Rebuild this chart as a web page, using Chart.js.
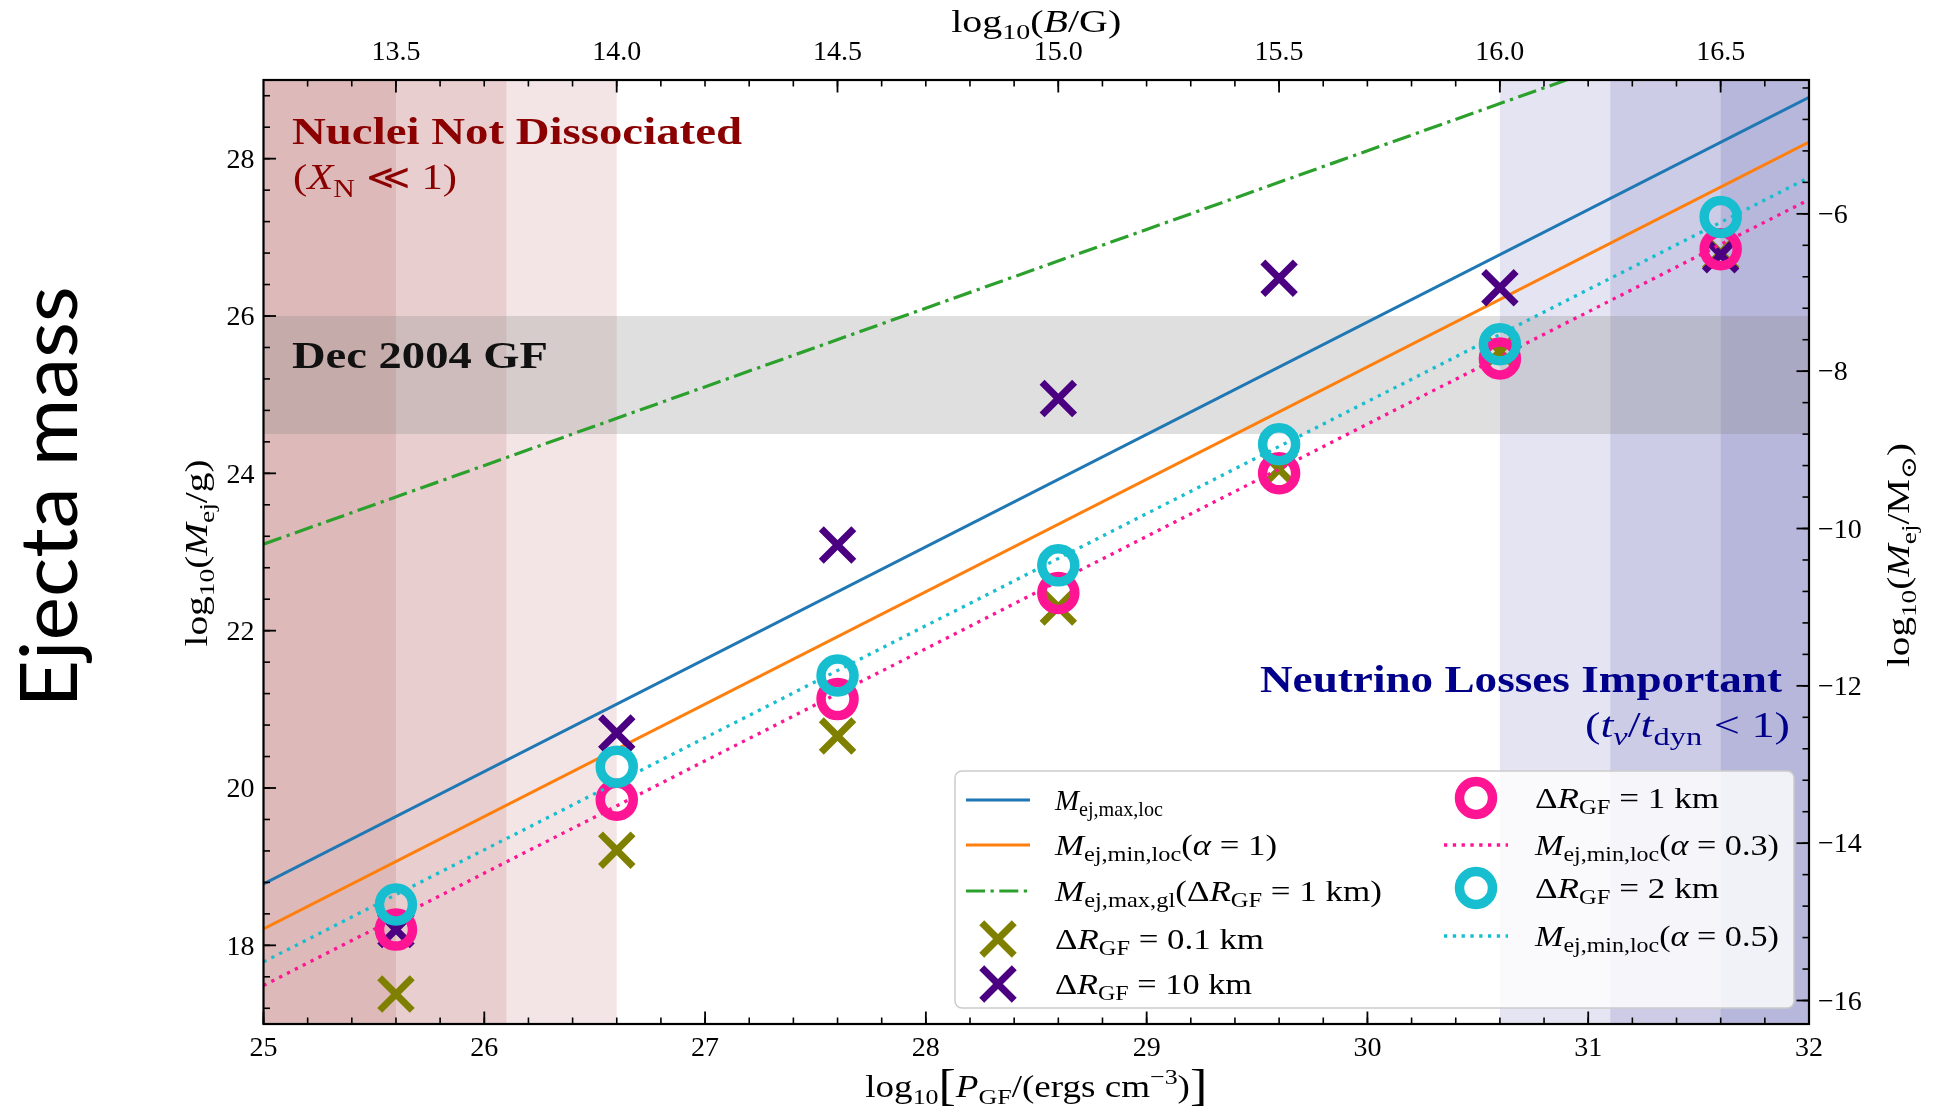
<!DOCTYPE html>
<html>
<head>
<meta charset="utf-8">
<title>Ejecta mass</title>
<script src="https://cdn.jsdelivr.net/npm/chart.js@4.4.1/dist/chart.umd.min.js"></script>
<style>
  html, body { margin: 0; padding: 0; background: #fff; }
  #wrap { width: 1940px; height: 1112px; position: relative; }
</style>
</head>
<body>
<div id="wrap"><canvas id="chart" width="1940" height="1112"></canvas></div>
<script>
// ---- data ----
const pressureLog = [25.6, 26.6, 27.6, 28.6, 29.6, 30.6, 31.6];
const massDR01 = [17.38, 19.21, 20.66, 22.30, 24.05, 25.55, 26.80];
const massDR10 = [18.20, 20.70, 23.09, 24.95, 26.48, 26.36, 26.78];
const massDR1 = [18.20, 19.85, 21.13, 22.48, 24.00, 25.46, 26.85];
const massDR2 = [18.52, 20.27, 21.43, 22.83, 24.37, 25.64, 27.26];

// model lines (end points at the plot edges)
const lineP = [25, 32];
const maxLoc = [18.78, 28.78];
const minLocA1 = [18.21, 28.21];
const maxGl = [23.10, 30.10];
const minLocA03 = [17.49, 27.48];
const minLocA05 = [17.79, 27.76];

// shaded regions
const nucleiBands = [[25, 26.6], [25, 26.1], [25, 25.6]];
const neutrinoBands = [[30.6, 32], [31.1, 32], [31.6, 32]];
const gfBand = [24.5, 26];

// tick labels
const bottomTicks = [25, 26, 27, 28, 29, 30, 31, 32];
const leftTicks = [18, 20, 22, 24, 26, 28];
const topTicks = [13.5, 14.0, 14.5, 15.0, 15.5, 16.0, 16.5];
const rightTicks = [-6, -8, -10, -12, -14, -16];

// axis conversions
const LOG_8PI = Math.log10(8 * Math.PI);   // B = sqrt(8 pi P)
const LOG_MSUN = Math.log10(1.989e33);

const SERIF = '"Liberation Serif", "DejaVu Serif", serif';
const COL = {
  blue: '#1f77b4', orange: '#ff7f0e', green: '#2ca02c',
  olive: '#808000', indigo: '#4b0082', pink: '#ff1493', cyan: '#17becf'
};

const pts = (xs, ys) => xs.map((x, i) => ({ x, y: ys[i] }));

// ---- rich text (sub/superscripts) ----
function runFont(st, size, family) {
  let s = size;
  if (st.includes('s') || st.includes('p')) s = size * 0.7;
  if (st.includes('B')) s = size * 1.4;
  return (st.includes('i') ? 'italic ' : '') + (st.includes('b') ? 'bold ' : '') + s + 'px ' + (family || SERIF);
}
function runShift(st, size) {
  if (st.includes('s')) return size * 0.22;
  if (st.includes('p')) return -size * 0.42;
  if (st.includes('B')) return size * 0.1;
  return 0;
}
function drawRich(ctx, runs, o) {
  ctx.save();
  const extra = o.bold ? 'b' : '';
  let total = 0;
  const ws = runs.map(([t, st]) => {
    ctx.font = runFont(st + extra, o.size, o.family);
    const w = ctx.measureText(t).width;
    total += w;
    return w;
  });
  const sx = o.width ? o.width / total : 1;
  ctx.translate(o.x, o.y);
  if (o.rotate) ctx.rotate(o.rotate);
  ctx.scale(sx, 1);
  let cx = o.align === 'center' ? -total / 2 : (o.align === 'right' ? -total : 0);
  ctx.fillStyle = o.color || '#000';
  ctx.textAlign = 'left';
  ctx.textBaseline = 'alphabetic';
  runs.forEach(([t, st], i) => {
    ctx.font = runFont(st + extra, o.size, o.family);
    ctx.fillText(t, cx, runShift(st, o.size));
    cx += ws[i];
  });
  ctx.restore();
}

// ---- datasets ----
const datasets = [
  { label: 'max,loc', data: pts(lineP, maxLoc), showLine: true, borderColor: COL.blue, borderWidth: 3, pointRadius: 0, clip: 0 },
  { label: 'min,loc a=1', data: pts(lineP, minLocA1), showLine: true, borderColor: COL.orange, borderWidth: 3, pointRadius: 0, clip: 0 },
  { label: 'max,gl', data: pts(lineP, maxGl), showLine: true, borderColor: COL.green, borderWidth: 3.2, borderDash: [19, 5.5, 3.3, 5.5], pointRadius: 0, clip: 0 },
  { label: 'dR 0.1', data: pts(pressureLog, massDR01), pointStyle: 'crossRot', pointRadius: 23, pointBorderWidth: 7, borderColor: COL.olive, backgroundColor: 'transparent' },
  { label: 'dR 10', data: pts(pressureLog, massDR10), pointStyle: 'crossRot', pointRadius: 23, pointBorderWidth: 7, borderColor: COL.indigo, backgroundColor: 'transparent' },
  { label: 'dR 1', data: pts(pressureLog, massDR1), pointStyle: 'circle', pointRadius: 16.5, pointBorderWidth: 9.5, borderColor: COL.pink, backgroundColor: 'transparent' },
  { label: 'min,loc a=0.3', data: pts(lineP, minLocA03), showLine: true, borderColor: COL.pink, borderWidth: 3.3, borderDash: [3.3, 5.5], pointRadius: 0, clip: 0 },
  { label: 'dR 2', data: pts(pressureLog, massDR2), pointStyle: 'circle', pointRadius: 16.5, pointBorderWidth: 9.5, borderColor: COL.cyan, backgroundColor: 'transparent' },
  { label: 'min,loc a=0.5', data: pts(lineP, minLocA05), showLine: true, borderColor: COL.cyan, borderWidth: 3.3, borderDash: [3.3, 5.5], pointRadius: 0, clip: 0 }
];
// later datasets sit on top, like the original plotting order
datasets.forEach((d, i) => {
  d.order = datasets.length - i;
  d.pointHoverRadius = d.pointRadius;
  d.pointHoverBorderWidth = d.pointBorderWidth;
});

// legend entries: [dataset index, label runs, column, row y, text width]
const legendItems = [
  [0, [['M', 'i'], ['ej,max,loc', 's']], 0, 800, 108],
  [1, [['M', 'i'], ['ej,min,loc', 's'], ['(', 'r'], ['α', 'i'], [' = 1)', 'r']], 0, 845, 222],
  [2, [['M', 'i'], ['ej,max,gl', 's'], ['(Δ', 'r'], ['R', 'i'], ['GF', 's'], [' = 1 km)', 'r']], 0, 891, 327],
  [3, [['Δ', 'r'], ['R', 'i'], ['GF', 's'], [' = 0.1 km', 'r']], 0, 939, 209],
  [4, [['Δ', 'r'], ['R', 'i'], ['GF', 's'], [' = 10 km', 'r']], 0, 984, 197],
  [5, [['Δ', 'r'], ['R', 'i'], ['GF', 's'], [' = 1 km', 'r']], 1, 798, 184],
  [6, [['M', 'i'], ['ej,min,loc', 's'], ['(', 'r'], ['α', 'i'], [' = 0.3)', 'r']], 1, 845, 244],
  [7, [['Δ', 'r'], ['R', 'i'], ['GF', 's'], [' = 2 km', 'r']], 1, 888, 184],
  [8, [['M', 'i'], ['ej,min,loc', 's'], ['(', 'r'], ['α', 'i'], [' = 0.5)', 'r']], 1, 936, 244]
];

function minorValues(min, max, step) {
  const out = [];
  const k0 = Math.ceil(min / step - 1e-6), k1 = Math.floor(max / step + 1e-6);
  for (let k = k0; k <= k1; k++) out.push(+(k * step).toFixed(6));
  return out;
}

function drawMarker(ctx, ds, x, y) {
  ctx.save();
  ctx.strokeStyle = ds.borderColor;
  ctx.lineWidth = ds.pointBorderWidth;
  ctx.beginPath();
  if (ds.pointStyle === 'circle') {
    ctx.arc(x, y, ds.pointRadius, 0, Math.PI * 2);
  } else {
    const d = ds.pointRadius * Math.SQRT1_2;
    ctx.moveTo(x - d, y - d); ctx.lineTo(x + d, y + d);
    ctx.moveTo(x + d, y - d); ctx.lineTo(x - d, y + d);
  }
  ctx.stroke();
  ctx.restore();
}

// shaded bands behind the data
const bandsPlugin = {
  id: 'bands',
  beforeDatasetsDraw(chart) {
    const { ctx, chartArea: a, scales } = chart;
    const xs = scales.x, ys = scales.y;
    ctx.save();
    ctx.fillStyle = 'rgba(139,0,0,0.1)';
    nucleiBands.forEach(([p0, p1]) => {
      const x0 = xs.getPixelForValue(p0), x1 = xs.getPixelForValue(p1);
      ctx.fillRect(x0, a.top, x1 - x0, a.bottom - a.top);
    });
    ctx.fillStyle = 'rgba(0,0,128,0.105)';
    neutrinoBands.forEach(([p0, p1]) => {
      const x0 = xs.getPixelForValue(p0), x1 = xs.getPixelForValue(p1);
      ctx.fillRect(x0, a.top, x1 - x0, a.bottom - a.top);
    });
    ctx.fillStyle = 'rgba(128,128,128,0.25)';
    const y0 = ys.getPixelForValue(gfBand[1]), y1 = ys.getPixelForValue(gfBand[0]);
    ctx.fillRect(a.left, y0, a.right - a.left, y1 - y0);
    ctx.restore();

    drawRich(ctx, [['Nuclei Not Dissociated', 'b']], { x: 292, y: 144, size: 37, width: 450, color: '#8b0000' });
    drawRich(ctx, [['(', 'r'], ['X', 'i'], ['N', 's'], [' ≪ 1)', 'r']], { x: 293, y: 189, size: 35, width: 164, color: '#8b0000' });
    drawRich(ctx, [['Dec 2004 GF', 'b']], { x: 292, y: 368, size: 37, width: 256, color: '#111' });
    drawRich(ctx, [['Neutrino Losses Important', 'b']], { x: 1782, y: 692, size: 37, width: 522, align: 'right', color: '#00008b' });
    drawRich(ctx, [['(', 'r'], ['t', 'i'], ['ν', 'si'], ['/', 'r'], ['t', 'i'], ['dyn', 's'], [' < 1)', 'r']],
      { x: 1790, y: 737, size: 35, width: 205, align: 'right', color: '#00008b' });
  }
};

// frame, inward ticks, labels, titles and legend on top
const framePlugin = {
  id: 'frame',
  afterDraw(chart) {
    const { ctx, chartArea: a, scales } = chart;
    const sx = scales.x, sx2 = scales.x2, sy = scales.y, sy2 = scales.y2;

    // legend
    ctx.save();
    ctx.beginPath();
    ctx.roundRect(955, 771, 839, 237, 7);
    ctx.fillStyle = 'rgba(255,255,255,0.8)';
    ctx.fill();
    ctx.strokeStyle = '#cccccc';
    ctx.lineWidth = 1.5;
    ctx.stroke();
    ctx.restore();
    const colSym = [998, 1476], colText = [1055, 1535];
    legendItems.forEach(([di, runs, col, yRow, w]) => {
      const ds = datasets[di];
      if (ds.showLine) {
        ctx.save();
        ctx.strokeStyle = ds.borderColor;
        ctx.lineWidth = ds.borderWidth;
        ctx.setLineDash(ds.borderDash || []);
        ctx.beginPath();
        ctx.moveTo(colSym[col] - 32, yRow);
        ctx.lineTo(colSym[col] + 32, yRow);
        ctx.stroke();
        ctx.restore();
      } else {
        drawMarker(ctx, ds, colSym[col], yRow);
      }
      drawRich(ctx, runs, { x: colText[col], y: yRow + 10, size: 29, width: w });
    });

    ctx.save();
    ctx.strokeStyle = '#000';
    // minor + major ticks, pointing inward
    const tick = (x0, y0, x1, y1, lw) => {
      ctx.lineWidth = lw;
      ctx.beginPath(); ctx.moveTo(x0, y0); ctx.lineTo(x1, y1); ctx.stroke();
    };
    minorValues(sx.min, sx.max, 0.2).forEach(v => { const p = sx.getPixelForValue(v); tick(p, a.bottom, p, a.bottom - 6.5, 1.6); });
    bottomTicks.forEach(v => { const p = sx.getPixelForValue(v); tick(p, a.bottom, p, a.bottom - 12.5, 1.8); });
    minorValues(sx2.min, sx2.max, 0.1).forEach(v => { const p = sx2.getPixelForValue(v); tick(p, a.top, p, a.top + 6.5, 1.6); });
    topTicks.forEach(v => { const p = sx2.getPixelForValue(v); tick(p, a.top, p, a.top + 12.5, 1.8); });
    minorValues(sy.min, sy.max, 0.4).forEach(v => { const p = sy.getPixelForValue(v); tick(a.left, p, a.left + 6.5, p, 1.6); });
    leftTicks.forEach(v => { const p = sy.getPixelForValue(v); tick(a.left, p, a.left + 12.5, p, 1.8); });
    minorValues(sy2.min, sy2.max, 0.4).forEach(v => { const p = sy2.getPixelForValue(v); tick(a.right, p, a.right - 6.5, p, 1.6); });
    rightTicks.forEach(v => { const p = sy2.getPixelForValue(v); tick(a.right, p, a.right - 12.5, p, 1.8); });
    ctx.lineWidth = 2.2;
    ctx.strokeRect(a.left, a.top, a.right - a.left, a.bottom - a.top);

    // tick labels
    ctx.fillStyle = '#000';
    ctx.font = '28px ' + SERIF;
    ctx.textBaseline = 'alphabetic';
    ctx.textAlign = 'center';
    bottomTicks.forEach(v => ctx.fillText(String(v), sx.getPixelForValue(v), a.bottom + 31.5));
    topTicks.forEach(v => ctx.fillText(v.toFixed(1), sx2.getPixelForValue(v), a.top - 20));
    ctx.textAlign = 'right';
    leftTicks.forEach(v => ctx.fillText(String(v), a.left - 9, sy.getPixelForValue(v) + 9.3));
    ctx.textAlign = 'left';
    rightTicks.forEach(v => ctx.fillText('\u2212' + Math.abs(v), a.right + 9, sy2.getPixelForValue(v) + 9.3));
    ctx.restore();

    // axis titles
    const midX = (a.left + a.right) / 2;
    drawRich(ctx, [['log', 'r'], ['10', 's'], ['(', 'r'], ['B', 'i'], ['/G)', 'r']], { x: midX, y: 32, size: 31, width: 170, align: 'center' });
    drawRich(ctx, [['log', 'r'], ['10', 's'], ['[', 'B'], ['P', 'i'], ['GF', 's'], ['/(ergs cm', 'r'], ['\u22123', 'p'], [')', 'r'], [']', 'B']],
      { x: midX, y: 1097, size: 31, width: 342, align: 'center' });
    drawRich(ctx, [['log', 'r'], ['10', 's'], ['(', 'r'], ['M', 'i'], ['ej', 's'], ['/g)', 'r']],
      { x: 207, y: 553, size: 31, width: 187, align: 'center', rotate: -Math.PI / 2 });
    drawRich(ctx, [['log', 'r'], ['10', 's'], ['(', 'r'], ['M', 'i'], ['ej', 's'], ['/M', 'r'], ['\u2299', 's'], [')', 'r']],
      { x: 1909, y: 555, size: 31, width: 224, align: 'center', rotate: -Math.PI / 2 });

    // slide caption
    drawRich(ctx, [['Ejecta mass', 'r']], { x: 77, y: 497, size: 80, width: 421, align: 'center', rotate: -Math.PI / 2, family: 'Lato, "Open Sans", sans-serif' });
  }
};

const fixedTicks = vals => scale => { scale.ticks = vals.map(v => ({ value: v })); };
const hidden = { display: false, drawTicks: false };

new Chart(document.getElementById('chart'), {
  type: 'scatter',
  data: { datasets },
  options: {
    responsive: false,
    animation: false,
    devicePixelRatio: 1,
    events: [],
    layout: { padding: 0, autoPadding: false },
    plugins: { legend: { display: false }, tooltip: { enabled: false } },
    scales: {
      x: {
        type: 'linear', position: 'bottom', min: 25, max: 32,
        grid: hidden, border: { display: false }, ticks: { display: false },
        afterBuildTicks: fixedTicks(bottomTicks),
        afterFit: s => { s.height = 88; }
      },
      x2: {
        type: 'linear', position: 'top', min: (25 + LOG_8PI) / 2, max: (32 + LOG_8PI) / 2,
        grid: hidden, border: { display: false }, ticks: { display: false },
        afterBuildTicks: fixedTicks(topTicks),
        afterFit: s => { s.height = 80; }
      },
      y: {
        type: 'linear', position: 'left', min: 17, max: 29,
        grid: hidden, border: { display: false }, ticks: { display: false },
        afterBuildTicks: fixedTicks(leftTicks),
        afterFit: s => { s.width = 263.5; }
      },
      y2: {
        type: 'linear', position: 'right', min: 17 - LOG_MSUN, max: 29 - LOG_MSUN,
        grid: hidden, border: { display: false }, ticks: { display: false },
        afterBuildTicks: fixedTicks(rightTicks),
        afterFit: s => { s.width = 131; }
      }
    }
  },
  plugins: [bandsPlugin, framePlugin]
});
</script>
</body>
</html>
